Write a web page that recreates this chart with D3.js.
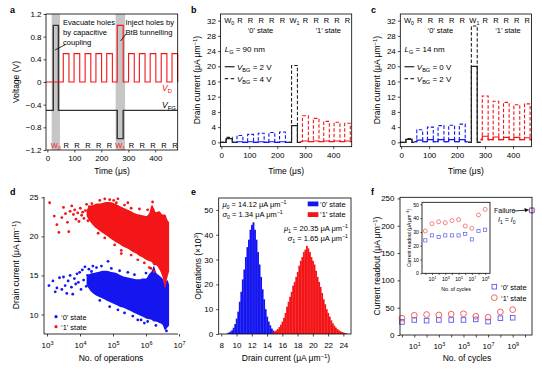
<!DOCTYPE html>
<html><head><meta charset="utf-8">
<script src="https://cdn.jsdelivr.net/npm/d3@7"></script>
<style>body{margin:0;background:#fff}svg{display:block}text{font-family:"Liberation Sans",Arial,Helvetica,sans-serif}</style>
</head><body><svg id="c" width="542" height="371"></svg>
<script>
// ================= DATA =================
// Panel a (timing in µs, voltages in V)
const aWrite0 = [22, 41], aWrite1 = [259, 281];
const aBands = [[16, 47], [253, 288]];
const aReads = [[59,80],[99,120],[140,161],[180,201],[220,241],[301,322],[341,362],[381,402],[422,443],[462,483]];
const vfgBase = -0.5, vfgWrite = [1.0, -1.0];
const vdBase = 0, vdRead = 0.5, vdWrite1 = 1.0;
const aTicksX = [0, 100, 200, 300, 400];
const aTicksY = [-1.2, -0.8, -0.4, 0, 0.4, 0.8, 1.2];
const aLabels = ["W0","R","R","R","R","R","W1","R","R","R","R","R"];

// Panels b, c (timing in µs, current in µA/µm)
const bcWrite0 = [17, 39], bcWrite1 = [251, 272];
const bcReads0 = [[56,77],[94,115],[132,153],[170,191],[208,229]];
const bcReads1 = [[290,311],[329,349],[366,386],[403,424],[441,461]];
const bcSegEdges = [47, 240, 284];
const bcTicksX = [0, 100, 200, 300, 400];
const bcTicksY = [0, 4, 8, 12, 16, 20, 24, 28, 32];
// panel b (L_G = 90 nm): solid V_BG = 2 V, dashed V_BG = 4 V
const bSolidWrite = [1.0, 4.4], bDashWrite = [1.3, 20.2];
const bSolidRead0 = [0.15, 0.15, 0.15, 0.15, 0.15];
const bDashRead0 = [1.8, 2.1, 2.4, 2.6, 2.7];
const bSolidRead1 = [0.35, 0.35, 0.35, 0.35, 0.35];
const bDashRead1 = [7.0, 6.3, 5.5, 5.3, 5.0];
const bBase0 = 0, bBase1 = 0.2;
// panel c (L_G = 14 nm): solid V_BG = 0 V, dashed V_BG = 2 V
const cSolidWrite = [0.8, 20.0], cDashWrite = [1.0, 30.6];
const cSolidRead0 = [0.6, 0.7, 0.7, 0.7, 0.7];
const cDashRead0 = [3.3, 4.0, 4.4, 4.5, 4.8];
const cSolidRead1 = [1.6, 1.4, 1.3, 1.3, 1.2];
const cDashRead1 = [12.2, 10.8, 10.5, 9.9, 10.1];
const cBase0 = 0.15, cBase1 = 0.7;

// Panel d (log10 of no. of operations, drain current): dense clouds as bands + individual points
const bandLogN   = [4.20,4.30,4.40,4.50,4.60,4.70,4.80,4.90,5.00,5.10,5.20,5.30,5.40,5.50,5.60,5.70,5.80,5.90,6.00,6.10,6.18,6.24,6.30,6.40,6.50,6.58,6.64,6.70];
const redBandHi  = [23.4,23.9,24.0,24.2,24.2,24.3,24.4,24.4,24.3,24.1,23.9,23.7,23.5,23.3,23.1,22.9,22.8,22.7,22.6,23.0,24.0,23.6,23.1,23.2,22.8,22.8,22.2,21.8];
const redBandLo  = [22.6,21.9,21.4,21.0,20.7,20.4,20.1,19.8,19.5,19.2,19.0,18.7,18.5,18.3,18.0,17.8,17.5,17.3,17.0,16.8,16.7,16.3,16.3,15.8,14.8,13.4,14.6,15.5];
const blueBandHi = [14.8,15.2,15.3,15.4,15.5,15.6,15.6,15.5,15.4,15.3,15.1,14.9,14.8,14.7,14.6,14.5,14.5,14.6,14.6,15.2,15.6,16.2,15.4,15.0,14.6,14.0,14.4,13.8];
const blueBandLo = [13.8,13.1,12.7,12.4,12.2,12.0,11.8,11.6,11.4,11.2,11.0,10.9,10.7,10.5,10.3,10.1,9.9,9.7,9.5,9.4,9.3,9.1,9.1,8.9,8.7,8.0,8.3,8.6];
const redSparseLogN = [3.08,3.22,3.30,3.36,3.45,3.50,3.56,3.62,3.66,3.70,3.75,3.80,3.84,3.88,3.93,3.97,4.01,4.05,4.08,4.12,4.16,4.20,4.24,4.28,4.32,4.36,4.40,4.90,5.02,5.10,5.35,5.55,5.25,6.15,6.25,4.60,4.75,5.15,5.45,5.80,6.05,6.20,4.55,4.75,5.05,5.25,5.55,5.75,5.95,6.10];
const redSparseVal  = [24.3,22.6,21.5,20.5,22.4,23.7,22.9,21.8,20.6,23.2,23.9,22.8,23.4,22.2,23.0,21.9,23.6,22.7,23.1,22.3,23.3,24.1,22.0,23.8,22.6,24.2,23.0,24.7,24.6,24.3,24.0,23.6,17.8,15.9,15.5,24.6,24.8,24.8,24.3,23.5,23.4,24.4,20.4,19.8,18.9,18.2,17.6,17.0,16.6,16.0];
const blueSparseLogN = [3.06,3.18,3.25,3.30,3.38,3.45,3.50,3.55,3.60,3.64,3.70,3.74,3.78,3.83,3.87,3.91,3.95,3.99,4.03,4.07,4.11,4.15,4.19,4.23,4.27,4.31,4.35,4.39,4.85,5.75,5.95,6.05,4.50,4.65,4.95,5.20,5.45,5.65,6.00,6.25,4.60,4.90,5.15,5.35,5.60,5.85,6.30,6.62];
const blueSparseVal  = [13.7,14.3,12.9,13.4,14.7,13.2,14.8,13.7,12.7,14.3,15.0,13.5,12.6,14.6,13.9,15.2,14.1,15.4,13.2,15.7,14.4,16.1,13.6,15.0,15.8,14.2,15.5,16.2,16.8,9.3,8.9,9.1,16.0,16.2,15.9,15.6,15.4,15.1,15.3,16.6,11.8,11.0,10.6,10.2,9.8,9.3,8.6,7.9];
const dTicksX = [1e3, 1e4, 1e5, 1e6, 1e7];
const dTicksY = [10, 15, 20, 25];

// Panel e (histograms, bin width 0.2 µA/µm, counts ×10^3)
const binWidth = 0.2;
const blueBinStart = 8.8;
const blueCounts = [0.3,0.6,1.0,1.5,2.5,4.0,6.2,9.0,13,17,22,26,31,35,38,42,44,45,42,38,33,28,23,18,14,10,7,5,3.5,2.2,1.4,0.8,0.4];
const redBinStart = 14.6;
const redCounts = [0.3,0.6,1.0,1.5,2.0,2.8,3.8,5.0,6.5,8.5,11,13,15,17,19.5,21,23,25,27.5,29.5,31,33,34,35.5,34.5,33,31,29.5,28,25.5,23,21,19,16.5,14,12,10,8.5,7,5.5,4.3,3.4,2.6,2.0,1.5,1.1,0.8,0.6,0.4,0.25];
const eTicksX = [8,10,12,14,16,18,20,22,24];
const eTicksY = [0,10,20,30,40,50];

// Panel f (endurance)
const cycles = [1,1e1,1e2,1e3,1e4,1e5,1e6,1e7,1e8,1e9];
const state0 = [23.9,27.5,26.3,27.5,27.5,27.5,28.5,24.6,30.7,31.6];
const state1 = [30.7,36.0,37.4,36.7,38.2,38.9,34.3,32.6,42.3,46.4];
const failCycles = 10**10.55, failCurrent = 228;
const fTicksY = [0,50,100,150,200,250];
const fTicksX = [1,1e1,1e2,1e3,1e4,1e5,1e6,1e7,1e8,1e9,1e10];
const fLabelExp = [1,3,5,7,9];
const insetTicksY = [0,10,20,30,40,50];

// ================= DRAWING =================
const svg = d3.select('#c');
const RED = '#f31518', BLUE = '#1515f0', BLK = '#222', GRAY = '#c6c6c6';
const LRED = '#f05050', LBLUE = '#5a5af0';

function rich(g, x, y, parts, fs, o = {}) {
  const t = g.append('text').attr('x', x).attr('y', y).attr('font-size', fs);
  if (o.anchor) t.attr('text-anchor', o.anchor);
  if (o.fill) t.attr('fill', o.fill);
  if (o.rotate) t.attr('transform', `rotate(-90,${x},${y})`);
  if (o.weight) t.attr('font-weight', o.weight);
  let shift = 0;
  parts.forEach(pp => {
    const [s, st = ''] = Array.isArray(pp) ? pp : [pp, ''];
    const ts = t.append('tspan').text(s);
    let target = 0, size = null;
    if (st.includes('sub')) { target = fs * 0.3; size = fs * 0.7; }
    if (st.includes('sup')) { target = -fs * 0.38; size = fs * 0.7; }
    if (target !== shift) { ts.attr('dy', target - shift); shift = target; }
    if (size) ts.attr('font-size', size);
    if (st.includes('it')) ts.attr('font-style', 'italic');
  });
  return t;
}
const fmtNum = d => (d < 0 ? '\u2212' : '') + String(Math.abs(d));
const fmtA = d => d === 0 ? '0' : (d < 0 ? '\u2212' : '') + Math.abs(d).toFixed(1);

function axis(scale, orient, at, vals, fmt, o = {}) {
  const ax = (orient === 'left' ? d3.axisLeft : d3.axisBottom)(scale)
    .tickValues(vals).tickSize(o.size ?? 2.5).tickPadding(o.pad ?? 2).tickFormat(fmt);
  const gg = svg.append('g').attr('transform', orient === 'left' ? `translate(${at},0)` : `translate(0,${at})`).call(ax);
  gg.select('.domain').remove();
  gg.selectAll('.tick line').attr('stroke', '#000').attr('stroke-width', 0.7);
  gg.selectAll('.tick text').attr('font-size', o.fs ?? 8).attr('fill', '#000')
    .attr('font-family', '"Liberation Sans",Arial,sans-serif');
  return gg;
}
function logLabels(gg, fs, show) {
  gg.selectAll('.tick text').each(function (d) {
    const e = Math.round(Math.log10(d));
    const t = d3.select(this); t.text(null);
    if (show && !show.includes(e)) return;
    t.append('tspan').text('10');
    t.append('tspan').attr('dy', -fs * 0.42).attr('font-size', fs * 0.68).text(e);
  });
}
function box(x0, y0, x1, y1, fill) {
  svg.append('rect').attr('x', x0).attr('y', y0).attr('width', x1 - x0).attr('height', y1 - y0)
    .attr('fill', fill || 'none').attr('stroke', '#000').attr('stroke-width', 0.8);
}
const unitParts = ['\u03bcA \u03bcm', ['\u22121', 'sup'], ')'];

// panel letters
[['a',10,13],['b',191,13],['c',371,13],['d',10,195],['e',191,195],['f',371,195]].forEach(([s,x,y]) =>
  svg.append('text').attr('x', x).attr('y', y).attr('font-size', 9).attr('font-weight', 'bold').text(s));

// ---------- Panel a ----------
{
  const x = d3.scaleLinear([-5, 483], [46, 177.7]);
  const y = d3.scaleLinear([-1.2, 1.2], [150, 14]);
  const g = svg.append('g');
  aBands.forEach(b => g.append('rect').attr('x', x(b[0])).attr('y', 14).attr('width', x(b[1]) - x(b[0])).attr('height', 136).attr('fill', GRAY));
  const line = d3.line().x(d => x(d[0])).y(d => y(d[1]));
  const vd = [[-5, vdBase]];
  const pulses = aReads.map(r => [r[0], r[1], vdRead]).concat([[aWrite1[0], aWrite1[1], vdWrite1]]).sort((p, q) => p[0] - q[0]);
  pulses.forEach(p => vd.push([p[0], vdBase], [p[0], p[2]], [p[1], p[2]], [p[1], vdBase]));
  vd.push([483, vdBase]);
  const vfg = [[-5, vfgBase]];
  [[aWrite0, vfgWrite[0]], [aWrite1, vfgWrite[1]]].forEach(([w, v]) => vfg.push([w[0], vfgBase], [w[0], v], [w[1], v], [w[1], vfgBase]));
  vfg.push([483, vfgBase]);
  g.append('path').attr('d', line(vfg)).attr('fill', 'none').attr('stroke', '#333').attr('stroke-width', 1.4);
  g.append('path').attr('d', line(vd)).attr('fill', 'none').attr('stroke', RED).attr('stroke-width', 1.1);
  box(46, 14, 177.7, 150);
  axis(y, 'left', 46, aTicksY, fmtA, { size: 2.5, pad: 2 });
  axis(x, 'bottom', 150, aTicksX, fmtNum, { size: 2.5, pad: 3 });
  rich(svg, 19, 82, ['Voltage (V)'], 8.5, { anchor: 'middle', rotate: true });
  rich(svg, 112, 174, ['Time (\u03bcs)'], 8.5, { anchor: 'middle' });
  const centers = [aWrite0].concat(aReads.slice(0, 5), [aWrite1], aReads.slice(5)).map(r => (r[0] + r[1]) / 2);
  aLabels.forEach((s, i) => {
    if (s[0] === 'W') rich(svg, x(centers[i]), 147.5, ['W', [s[1], 'sub']], 7.5, { anchor: 'middle', fill: RED });
    else rich(svg, x(centers[i]), 147.5, ['R'], 7.5, { anchor: 'middle' });
  });
  ['Evacuate holes', 'by capacitive', 'coupling'].forEach((s, i) => rich(svg, 63, 25 + i * 10, [s], 7.6));
  ['Inject holes by', 'BtB tunnelling'].forEach((s, i) => rich(svg, 125.5, 25 + i * 10, [s], 7.6));
  svg.append('line').attr('x1', 65.5).attr('y1', 44.5).attr('x2', 55).attr('y2', 50).attr('stroke', '#000').attr('stroke-width', 0.8);
  svg.append('line').attr('x1', 126).attr('y1', 34).attr('x2', 120.5).attr('y2', 41).attr('stroke', '#000').attr('stroke-width', 0.8);
  rich(svg, 162, 90.5, [['V', 'it'], ['D', 'sub']], 8.5, { fill: RED });
  rich(svg, 162, 107.5, [['V', 'it'], ['FG', 'sub']], 8.5);
}

// ---------- Panels b, c ----------
function trace(x0, x1, w, r0, r1, base0, base1) {
  const segs = [];
  segs.push({ c: BLK, p: [[x0, 0], [bcWrite0[0], 0], [bcWrite0[0], w[0]], [bcWrite0[1], w[0]], [bcWrite0[1], 0], [bcSegEdges[0], 0]] });
  let p = [[bcSegEdges[0], base0]];
  bcReads0.forEach((r, i) => p.push([r[0], base0], [r[0], r0[i]], [r[1], r0[i]], [r[1], base0]));
  p.push([bcSegEdges[1], base0]); segs.push({ c: BLUE, p });
  segs.push({ c: BLK, p: [[bcSegEdges[1], 0], [bcWrite1[0], 0], [bcWrite1[0], w[1]], [bcWrite1[1], w[1]], [bcWrite1[1], 0], [bcSegEdges[2], 0]] });
  p = [[bcSegEdges[2], base1]];
  bcReads1.forEach((r, i) => p.push([r[0], base1], [r[0], r1[i]], [r[1], r1[i]], [r[1], base1]));
  p.push([x1, base1]); segs.push({ c: RED, p });
  return segs;
}
function panelBC(ox, lg, vb1, vb2, sW, dW, s0, d0, s1, d1, base0, base1) {
  const L = 220.5 + ox, R = 351.7 + ox;
  const x = d3.scaleLinear([-3, 466], [L, R]);
  const y = d3.scaleLinear([-1.15, 33.75], [146.7, 14]);
  const line = d3.line().x(d => x(d[0])).y(d => y(d[1]));
  const g = svg.append('g');
  trace(-3, 466, dW, d0, d1, base0, base1).forEach(s => g.append('path').attr('d', line(s.p)).attr('fill', 'none')
    .attr('stroke', s.c).attr('stroke-width', 1.1).attr('stroke-dasharray', '3.5,2'));
  trace(-3, 466, sW, s0, s1, base0, base1).forEach(s => g.append('path').attr('d', line(s.p)).attr('fill', 'none')
    .attr('stroke', s.c).attr('stroke-width', 1.2));
  box(L, 14, R, 146.7);
  axis(y, 'left', L, bcTicksY, fmtNum, { size: 2.5, pad: 2 });
  axis(x, 'bottom', 146.7, bcTicksX, fmtNum, { size: 2.5, pad: 3 });
  rich(svg, 200 + ox, 80, ['Drain current (', ...unitParts], 8.5, { anchor: 'middle', rotate: true });
  rich(svg, (L + R) / 2, 174, ['Time (\u03bcs)'], 8.5, { anchor: 'middle' });
  const lbl = [bcWrite0].concat(bcReads0, [bcWrite1], bcReads1).map(r => (r[0] + r[1]) / 2);
  aLabels.forEach((s, i) => {
    if (s[0] === 'W') rich(svg, x(lbl[i]), 22.5, ['W', [s[1], 'sub']], 7.5, { anchor: 'middle' });
    else rich(svg, x(lbl[i]), 22.5, ['R'], 7.5, { anchor: 'middle' });
  });
  rich(svg, x(140), 32.5, ['\u20180\u2019 state'], 7.5, { anchor: 'middle' });
  rich(svg, x(382), 32.5, ['\u20181\u2019 state'], 7.5, { anchor: 'middle' });
  rich(svg, 224.7 + ox, 52, [['L', 'it'], ['G', 'sub'], ' = ' + lg + ' nm'], 8);
  svg.append('line').attr('x1', 224.7 + ox).attr('x2', 234.5 + ox).attr('y1', 66.7).attr('y2', 66.7).attr('stroke', '#333').attr('stroke-width', 1.3);
  svg.append('line').attr('x1', 224.7 + ox).attr('x2', 234.5 + ox).attr('y1', 78.7).attr('y2', 78.7).attr('stroke', '#333').attr('stroke-width', 1.2).attr('stroke-dasharray', '3.5,2.5');
  rich(svg, 237 + ox, 69.5, [['V', 'it'], ['BG', 'sub'], ' = ' + vb1 + ' V'], 8);
  rich(svg, 237 + ox, 81.5, [['V', 'it'], ['BG', 'sub'], ' = ' + vb2 + ' V'], 8);
}
panelBC(0, 90, 2, 4, bSolidWrite, bDashWrite, bSolidRead0, bDashRead0, bSolidRead1, bDashRead1, bBase0, bBase1);
panelBC(179.8, 14, 0, 2, cSolidWrite, cDashWrite, cSolidRead0, cDashRead0, cSolidRead1, cDashRead1, cBase0, cBase1);

// ---------- Panel d ----------
{
  const x = d3.scaleLog([1e3, 1e7], [47, 179]);
  const y = d3.scaleLinear([7.5, 25], [334, 197.3]);
  const g = svg.append('g');
  const area = (hi, lo) => d3.area().x((d, i) => x(10 ** bandLogN[i])).y0((d, i) => y(lo[i])).y1((d, i) => y(hi[i])).curve(d3.curveMonotoneX)(bandLogN);
  g.append('path').attr('d', area(blueBandHi, blueBandLo)).attr('fill', BLUE);
  blueSparseLogN.forEach((l, i) => g.append('circle').attr('cx', x(10 ** l)).attr('cy', y(blueSparseVal[i])).attr('r', 1.4).attr('fill', BLUE));
  g.append('path').attr('d', area(redBandHi, redBandLo)).attr('fill', RED);
  redSparseLogN.forEach((l, i) => g.append('circle').attr('cx', x(10 ** l)).attr('cy', y(redSparseVal[i])).attr('r', 1.4).attr('fill', RED));
  svg.append('line').attr('x1', 44).attr('x2', 44).attr('y1', 197).attr('y2', 334).attr('stroke', '#000').attr('stroke-width', 0.8);
  svg.append('line').attr('x1', 44).attr('x2', 178).attr('y1', 334).attr('y2', 334).attr('stroke', '#000').attr('stroke-width', 0.8);
  axis(y, 'left', 44, dTicksY, fmtNum, { size: 2.5, pad: 3 });
  const gx = axis(x, 'bottom', 334, dTicksX, () => '', { size: 2.5, pad: 6 });
  logLabels(gx, 8);
  svg.append('circle').attr('cx', 56).attr('cy', 316.7).attr('r', 1.6).attr('fill', BLUE);
  svg.append('circle').attr('cx', 56).attr('cy', 326.7).attr('r', 1.6).attr('fill', RED);
  rich(svg, 61, 319.5, ['\u20180\u2019 state'], 7.5);
  rich(svg, 61, 329.5, ['\u20181\u2019 state'], 7.5);
  rich(svg, 19, 265, ['Drain current (', ...unitParts], 8.5, { anchor: 'middle', rotate: true });
  rich(svg, 111, 361, ['No. of operations'], 8.5, { anchor: 'middle' });
}

// ---------- Panel e ----------
{
  const x = d3.scaleLinear([7.66, 25.0], [218.7, 351]);
  const y = d3.scaleLinear([0, 54.8], [334, 198]);
  const g = svg.append('g');
  const bars = (start, counts, col) => counts.forEach((c, i) => {
    const c0 = start + i * binWidth - binWidth / 2;
    g.append('rect').attr('x', x(c0)).attr('width', x(c0 + binWidth) - x(c0) + 0.3).attr('y', y(c)).attr('height', y(0) - y(c)).attr('fill', col);
  });
  bars(blueBinStart, blueCounts, BLUE);
  bars(redBinStart, redCounts, RED);
  box(218.7, 198, 351, 334);
  axis(y, 'left', 218.7, eTicksY, fmtNum, { size: 2.5, pad: 3 });
  axis(x, 'bottom', 334, eTicksX, fmtNum, { size: 2.5, pad: 6 });
  svg.append('rect').attr('x', 307.7).attr('y', 201.5).attr('width', 10.7).attr('height', 4.8).attr('fill', BLUE);
  svg.append('rect').attr('x', 307.7).attr('y', 212.2).attr('width', 10.7).attr('height', 4.8).attr('fill', RED);
  rich(svg, 320, 206.5, ['\u20180\u2019 state'], 7.5);
  rich(svg, 320, 217, ['\u20181\u2019 state'], 7.5);
  rich(svg, 222.5, 207, [['\u03bc', 'it'], ['0', 'sub'], ' = 14.12 \u03bcA \u03bcm', ['\u22121', 'sup']], 7.5);
  rich(svg, 222.5, 217, [['\u03c3', 'it'], ['0', 'sub'], ' = 1.34 \u03bcA \u03bcm', ['\u22121', 'sup']], 7.5);
  rich(svg, 348, 230.5, [['\u03bc', 'it'], ['1', 'sub'], ' = 20.35 \u03bcA \u03bcm', ['\u22121', 'sup']], 7.5, { anchor: 'end' });
  rich(svg, 348, 240.5, [['\u03c3', 'it'], ['1', 'sub'], ' = 1.65 \u03bcA \u03bcm', ['\u22121', 'sup']], 7.5, { anchor: 'end' });
  rich(svg, 201, 266, ['Operations (\u00d710', ['3', 'sup'], ')'], 8.5, { anchor: 'middle', rotate: true });
  rich(svg, 286, 361, ['Drain current (', ...unitParts], 8.5, { anchor: 'middle' });
}

// ---------- Panel f ----------
{
  const x = d3.scaleLog([10 ** -0.16, 10 ** 10.57], [400, 532]);
  const y = d3.scaleLinear([0, 252], [335, 197.3]);
  const g = svg.append('g');
  const sq = 4.6;
  cycles.forEach((c, i) => {
    g.append('rect').attr('x', x(c) - sq / 2).attr('y', y(state0[i]) - sq / 2).attr('width', sq).attr('height', sq)
      .attr('fill', 'none').attr('stroke', LBLUE).attr('stroke-width', 0.9);
    g.append('circle').attr('cx', x(c)).attr('cy', y(state1[i])).attr('r', 2.9).attr('fill', 'none').attr('stroke', LRED).attr('stroke-width', 0.9);
  });
  g.append('rect').attr('x', x(failCycles) - sq / 2).attr('y', y(failCurrent) - sq / 2).attr('width', sq).attr('height', sq)
    .attr('fill', 'none').attr('stroke', LBLUE).attr('stroke-width', 0.9);
  g.append('circle').attr('cx', x(failCycles)).attr('cy', y(failCurrent)).attr('r', 2.9).attr('fill', 'none').attr('stroke', LRED).attr('stroke-width', 0.9).attr('stroke-dasharray', '2,1');
  box(400, 197.3, 532, 335);
  axis(y, 'left', 400, fTicksY, fmtNum, { size: 2.5, pad: 3 });
  const gx = axis(x, 'bottom', 335, fTicksX, () => '', { size: 2.5, pad: 6 });
  logLabels(gx, 8, fLabelExp);
  rich(svg, 494, 213, ['Failure'], 7);
  rich(svg, 498, 221.5, [['I', 'it'], ['1', 'sub'], ' = ', ['I', 'it'], ['0', 'sub']], 7);
  svg.append('line').attr('x1', 514).attr('y1', 211).attr('x2', 525.5).attr('y2', 210.2).attr('stroke', '#000').attr('stroke-width', 0.8);
  svg.append('path').attr('d', 'M529,210 L524.5,208 L525,212 Z').attr('fill', '#000');
  svg.append('rect').attr('x', 494.3 - sq / 2).attr('y', 286.7 - sq / 2).attr('width', sq).attr('height', sq).attr('fill', 'none').attr('stroke', LBLUE).attr('stroke-width', 0.9);
  svg.append('circle').attr('cx', 494.3).attr('cy', 297.7).attr('r', 2.9).attr('fill', 'none').attr('stroke', LRED).attr('stroke-width', 0.9);
  rich(svg, 501, 289.5, ['\u20180\u2019 state'], 7.5);
  rich(svg, 501, 300.5, ['\u20181\u2019 state'], 7.5);
  rich(svg, 380, 266, ['Current readout (', ...unitParts], 8.5, { anchor: 'middle', rotate: true });
  rich(svg, 467, 361, ['No. of cycles'], 8.5, { anchor: 'middle' });

  // inset
  const xi = d3.scaleLog([10 ** -0.5, 10 ** 9.73], [422, 490]);
  const yi = d3.scaleLinear([0, 51.5], [273.3, 202.3]);
  box(422, 202.3, 490, 273.3, '#fff');
  const gi = svg.append('g');
  const sqi = 3.2;
  cycles.forEach((c, i) => {
    gi.append('rect').attr('x', xi(c) - sqi / 2).attr('y', yi(state0[i]) - sqi / 2).attr('width', sqi).attr('height', sqi)
      .attr('fill', 'none').attr('stroke', LBLUE).attr('stroke-width', 0.7);
    gi.append('circle').attr('cx', xi(c)).attr('cy', yi(state1[i])).attr('r', 2).attr('fill', 'none').attr('stroke', LRED).attr('stroke-width', 0.7);
  });
  axis(yi, 'left', 422, insetTicksY, fmtNum, { size: 1.5, pad: 1.5, fs: 5.2 });
  const gxi = axis(xi, 'bottom', 273.3, fTicksX.slice(0, 10), () => '', { size: 1.5, pad: 3, fs: 5.2 });
  logLabels(gxi, 5.2, fLabelExp);
  rich(svg, 411, 238, ['Current readout (', ...unitParts], 5, { anchor: 'middle', rotate: true });
  rich(svg, 456, 290.5, ['No. of cycles'], 5.2, { anchor: 'middle' });
}
</script></body></html>
